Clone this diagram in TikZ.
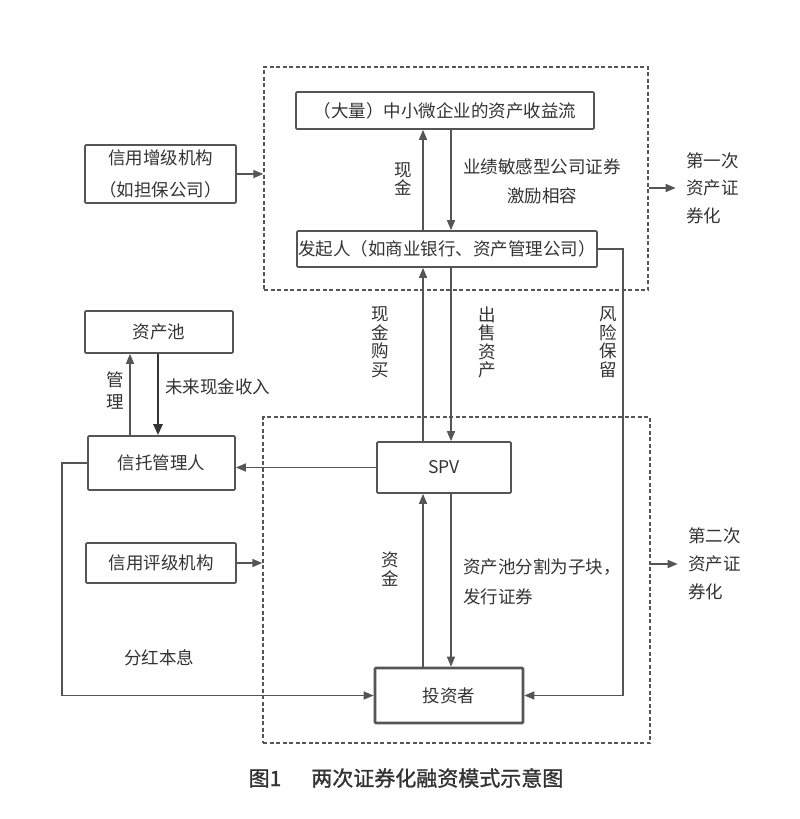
\documentclass[tikz,border=0pt]{standalone}
\usepackage{fontspec}
\setmainfont{Noto Sans CJK SC}
\newfontfamily\capfont[FakeBold=1.2]{Noto Sans CJK SC}
\usetikzlibrary{arrows.meta}
\definecolor{ln}{HTML}{555555}
\definecolor{tx}{HTML}{333333}
\begin{document}
\begin{tikzpicture}[x=1pt,y=-1pt,
  box/.style={draw=ln, line width=1.7pt, rounded corners=1pt, inner sep=0pt, text=tx, align=center, font=\fontsize{17.5}{19}\selectfont},
  dbox/.style={draw=ln, line width=1.4pt, dash pattern=on 4pt off 2.5pt, inner sep=0pt},
  arr/.style={draw=ln, line width=1.5pt, -{Triangle[length=10pt,width=8pt]}},
  lbl/.style={text=tx, inner sep=0pt, align=center}]
\useasboundingbox (0,0) rectangle (800,819);

% dashed frames
\node[dbox, minimum width=384pt, minimum height=223pt] (top) at (456,178.5) {};
\node[dbox, minimum width=387pt, minimum height=326pt] (bot) at (456.5,580) {};

% boxes
\node[box, minimum width=298pt, minimum height=37pt] (src) at (445,110.5) {（大量）中小微企业的资产收益流};
\node[box, minimum width=300pt, minimum height=36pt] (orig) at (447,249) {发起人（如商业银行、资产管理公司）};
\node[box, minimum width=151pt, minimum height=58pt, font=\fontsize{17.5}{32}\selectfont] (enh) at (160.5,174) {信用增级机构\\（如担保公司）};
\node[box, minimum width=148pt, minimum height=42pt] (pool) at (159,332) {资产池};
\node[box, minimum width=147pt, minimum height=54pt] (trust) at (161.5,463) {信托管理人};
\node[box, minimum width=134pt, minimum height=51pt] (spv) at (444,467.5) {SPV};
\node[box, minimum width=150pt, minimum height=40pt] (rating) at (161,563) {信用评级机构};
\node[box, line width=2.6pt, minimum width=148pt, minimum height=55pt] (inv) at (449,695.5) {投资者};

% side labels
\node[lbl, anchor=west, align=left, font=\fontsize{17.5}{27.5}\selectfont] (first) at (686,188) {第一次\\资产证\\券化};
\node[lbl, anchor=west, align=left, font=\fontsize{17.5}{28}\selectfont] (second) at (688,564) {第二次\\资产证\\券化};

% x positions
\coordinate (xa) at (423,0);
\coordinate (xb) at (451,0);
\coordinate (xr) at (623,0);
\coordinate (xl) at (62,0);
\coordinate (xm) at (130,0);
\coordinate (xn) at (158,0);

% connectors
\draw[arr] (orig.north -| xa) -- (src.south -| xa);
\draw[arr] (src.south -| xb) -- (orig.north -| xb);
\draw[arr] (spv.north -| xa) -- (orig.south -| xa);
\draw[arr] (orig.south -| xb) -- (spv.north -| xb);
\draw[arr] (inv.north -| xa) -- (spv.south -| xa);
\draw[arr] (spv.south -| xb) -- (inv.north -| xb);
\draw[arr] (orig.east) -- (orig.east -| xr) -- (inv.east -| xr) -- (inv.east);
\draw[arr] (spv.west) -- (spv.west -| trust.east);
\draw[arr] (trust.west) -- (trust.west -| xl) -- (inv.west -| xl) -- (inv.west);
\draw[arr] (trust.north -| xm) -- (pool.south -| xm);
\draw[arr, line width=2.6pt, draw=black!80, -{Triangle[length=11pt,width=9pt]}] (pool.south -| xn) -- (trust.north -| xn);
\draw[arr] (enh.east) -- (enh.east -| top.west);
\draw[arr] (rating.east) -- (rating.east -| bot.west);
\draw[arr] (first.west -| top.east) -- ++(27,0);
\draw[arr] (second.west -| bot.east) -- ++(27,0);

% connector labels
\node[lbl, font=\fontsize{17.5}{18}\selectfont] (l1) at (403,179) {现\\金};
\node[lbl, font=\fontsize{17.5}{29}\selectfont] (l2) at (542,181.5) {业绩敏感型公司证券\\激励相容};
\node[lbl, font=\fontsize{17.5}{18.5}\selectfont] (l3) at (380,342.5) {现\\金\\购\\买};
\node[lbl, font=\fontsize{17.5}{18.5}\selectfont] (l4) at (487,342.5) {出\\售\\资\\产};
\node[lbl, font=\fontsize{17.5}{18.5}\selectfont] (l5) at (608,342.5) {风\\险\\保\\留};
\node[lbl, font=\fontsize{17.5}{22}\selectfont] (l6) at (115,391) {管\\理};
\node[lbl, anchor=west, font=\fontsize{17.5}{19}\selectfont] (l7) at (165,387) {未来现金收入};
\node[lbl, font=\fontsize{17.5}{19}\selectfont] (l8) at (390,569.5) {资\\金};
\node[lbl, anchor=west, align=left, font=\fontsize{17.5}{30}\selectfont] (l9) at (463,582) {资产池分割为子块，\\发行证券};
\node[lbl, font=\fontsize{17.5}{19}\selectfont] (l10) at (159,658) {分红本息};

% caption
\node[lbl, font=\fontsize{21}{24}\capfont] (cap) at (406,778) {图1\hspace{30pt}两次证券化融资模式示意图};
\end{tikzpicture}
\end{document}
